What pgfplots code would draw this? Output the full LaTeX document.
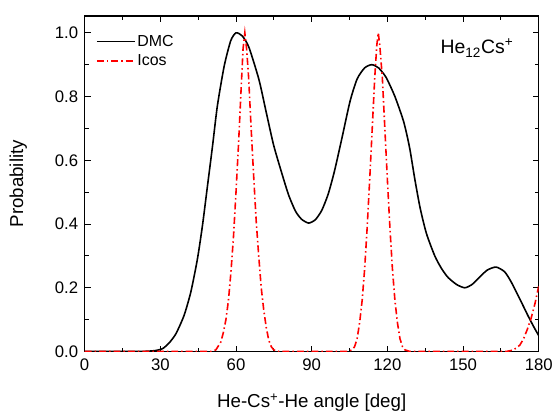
\documentclass[border=0pt]{standalone}
\usepackage{fontspec}
\setmainfont{Liberation Sans}
\setsansfont{Liberation Sans}
\usepackage{pgfplots}
\pgfplotsset{compat=1.18}
\begin{document}
\begin{tikzpicture}
\begin{axis}[
  name=ax,
  scale only axis,
  width=456pt, height=337pt,
  xmin=0, xmax=180, ymin=0, ymax=1.053,
  xtick={0,30,60,90,120,150,180},
  ytick={0,0.2,0.4,0.6,0.8,1.0},
  minor x tick num=1, minor y tick num=1,
  tick align=inside,
  major tick length=6pt, minor tick length=4pt,
  xtick pos=both, ytick pos=both,
  xticklabel pos=lower, yticklabel pos=left,
  axis line style={line width=1.2pt},
  every tick/.style={black, line width=0.9pt},
  /pgf/number format/assume math mode=true,
  yticklabel style={xshift=-3pt, /pgf/number format/.cd, fixed, fixed zerofill, precision=1},
  tick label style={font=\fontsize{16.8}{19}\selectfont},
  xticklabel style={yshift=-4pt},
  xlabel={He-Cs\textsuperscript{+}-He angle [deg]},
  ylabel={Probability},
  label style={font=\fontsize{18.8}{22}\selectfont},
  xlabel style={at={(axis description cs:0.5,0)}, anchor=base, yshift=-56pt},
  ylabel style={at={(axis description cs:-0.146,0.5)}, anchor=center},
  legend style={draw=none, fill=none, at={(axis description cs:0.018,0.955)}, anchor=north west, font=\fontsize{16}{19}\selectfont, row sep=3pt},
  legend cell align=left,
  legend image code/.code={\draw[#1] (0cm,0cm) -- (38pt,0cm);},
  clip=true,
]
\addplot[black, line width=1.6pt, smooth, tension=0.4] coordinates {
(0,0) (20,0) (25,0.001) (28,0.003) (30.9,0.009) (33.5,0.027) (36.2,0.056) (39.4,0.113) (42.1,0.187) (44.7,0.29) (46.7,0.395) (48.7,0.52) (50.7,0.645) (52.6,0.77) (55.3,0.895) (57.9,0.975) (60,1.0) (62.5,0.99) (65.1,0.955) (69.1,0.853) (72,0.75) (75,0.645) (78.9,0.54) (81,0.488) (83.6,0.44) (86,0.415) (88.8,0.403) (91.5,0.414) (94,0.443) (96.5,0.493) (99,0.565) (102,0.67) (105.2,0.785) (108,0.855) (111,0.89) (113.8,0.90) (116.5,0.89) (119.5,0.86) (123,0.80) (126.5,0.72) (128.8,0.64) (130.9,0.54) (133,0.45) (135.5,0.37) (138.8,0.30) (141.5,0.26) (144.1,0.232) (147.5,0.21) (150.7,0.20) (153.5,0.21) (155.9,0.228) (159.5,0.255) (163.1,0.265) (166.5,0.25) (169.1,0.218) (172.5,0.165) (175.7,0.113) (178,0.078) (180,0.05)
};
\addlegendentry{DMC}
\addplot[red, line width=1.6pt, dash pattern=on 7pt off 3pt on 1.5pt off 3pt] coordinates {
(0,0) (50,0) (52,0.005) (54,0.03) (55,0.06) (56,0.10) (57,0.16) (58,0.25) (59,0.36) (60,0.50) (61,0.65) (62,0.82) (62.8,0.95) (63.5,1.0) (64.2,0.95) (65,0.86) (66,0.70) (67,0.55) (68,0.41) (69,0.30) (70,0.20) (71,0.13) (72,0.075) (73,0.035) (74,0.015) (75,0.005) (77,0)
(104,0) (106,0.005) (107,0.015) (108,0.04) (109,0.09) (110,0.16) (111,0.26) (112,0.39) (113,0.54) (114,0.70) (115,0.86) (115.8,0.96) (116.4,1.0) (117,0.96) (118,0.86) (119,0.70) (120,0.54) (121,0.39) (122,0.26) (123,0.16) (124,0.09) (125,0.04) (126,0.015) (127,0.005) (129,0)
(167,0) (169,0.003) (171,0.01) (172.5,0.02) (174,0.04) (175.5,0.07) (177,0.105) (178.5,0.15) (180,0.205)
};
\addlegendentry{Icos}
\node[font=\fontsize{19.5}{22}\selectfont] at (axis cs:155.5,0.953) {He\textsubscript{12}Cs\textsuperscript{+}};
\end{axis}
\path ([shift={(-85pt,-60pt)}]ax.south west) rectangle ([shift={(15pt,16pt)}]ax.north east);
\end{tikzpicture}
\end{document}
